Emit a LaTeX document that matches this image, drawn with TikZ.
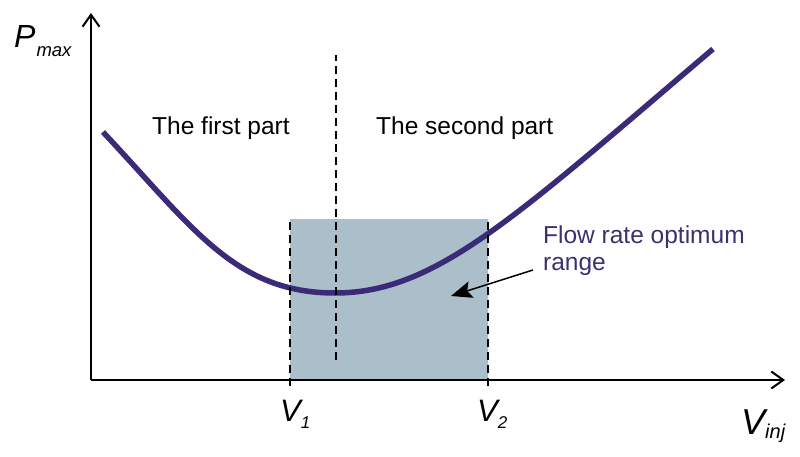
\documentclass[tikz,border=0pt]{standalone}
\usepackage{fontspec}
\setmainfont{Liberation Sans}
\usepackage{xcolor}
\usetikzlibrary{arrows.meta, positioning}
\definecolor{curvecol}{HTML}{3B2A78}
\definecolor{boxcol}{HTML}{AABFC9}
\definecolor{textcol}{HTML}{3D3070}

\begin{document}
\begin{tikzpicture}[x=1pt, y=1pt]
\tikzstyle{axis} = [line width=2pt, -{Straight Barb[length=12pt, width=17pt, line width=2pt]}]
\tikzstyle{guide} = [line width=1.7pt, dash pattern=on 8pt off 5pt]
\tikzstyle{curve} = [line width=5.5pt, draw=curvecol]
\tikzstyle{label} = [inner sep=0pt, anchor=base west, font=\fontsize{24.5}{27}\selectfont]
\tikzstyle{symbol} = [inner sep=0pt, anchor=base west]
\tikzstyle{pointer} = [line width=1.5pt, -{Stealth[length=21pt, width=17pt, inset=4pt]}]

\useasboundingbox (0,0) rectangle (800,456);

% axes and guide points
\coordinate (origin) at (91,76);
\coordinate (ytop) at (91,443);
\coordinate (xend) at (785,76);
\coordinate (vonebot) at (290,70);
\coordinate (vonetop) at (290,237);
\coordinate (vtwobot) at (488,70);
\coordinate (vtwotop) at (488,237);
\coordinate (midtop) at (336,401);
\coordinate (midbot) at (336,96);
\coordinate (pointtail) at (533,186);
\coordinate (pointtip) at (451,160);

\fill [boxcol] (vonebot |- origin) rectangle (vtwotop);

\draw [curve] (103,324) .. controls (193,228) and (235,163) .. (335,163)
  .. controls (435,163) and (513,237) .. (713,407);

\draw [guide] (vonebot) -- (vonetop);
\draw [guide] (vtwobot) -- (vtwotop);
\draw [guide] (midbot) -- (midtop);

\draw [axis] (origin) -- (ytop);
\draw [axis] (origin) -- (xend);

\node (firstpart) [label] at (152,321) {The first part};
\node (secondpart) [label] at (376,321) {The second part};
\node (flowlabel) [label, text=textcol] at (543,213) {Flow rate optimum};
\node (rangelabel) [label, text=textcol, below=27pt of flowlabel.base west, anchor=base west] {range};

\draw [pointer] (pointtail) -- (pointtip);

\node (pmax) [symbol] at (14,408) {\fontsize{32}{32}\selectfont\itshape P\kern1pt\raisebox{-9pt}{\fontsize{18.5}{18.5}\selectfont max}};
\node (vone) [symbol] at (280,35) {\fontsize{31}{31}\selectfont\itshape V\raisebox{-7pt}{\fontsize{17}{17}\selectfont 1}};
\node (vtwo) [symbol] at (477,35) {\fontsize{31}{31}\selectfont\itshape V\raisebox{-7pt}{\fontsize{17}{17}\selectfont 2}};
\node (vinj) [symbol] at (741,22) {\fontsize{36}{36}\selectfont\itshape V\raisebox{-4pt}{\fontsize{20}{20}\selectfont inj}};

\end{tikzpicture}
\end{document}
